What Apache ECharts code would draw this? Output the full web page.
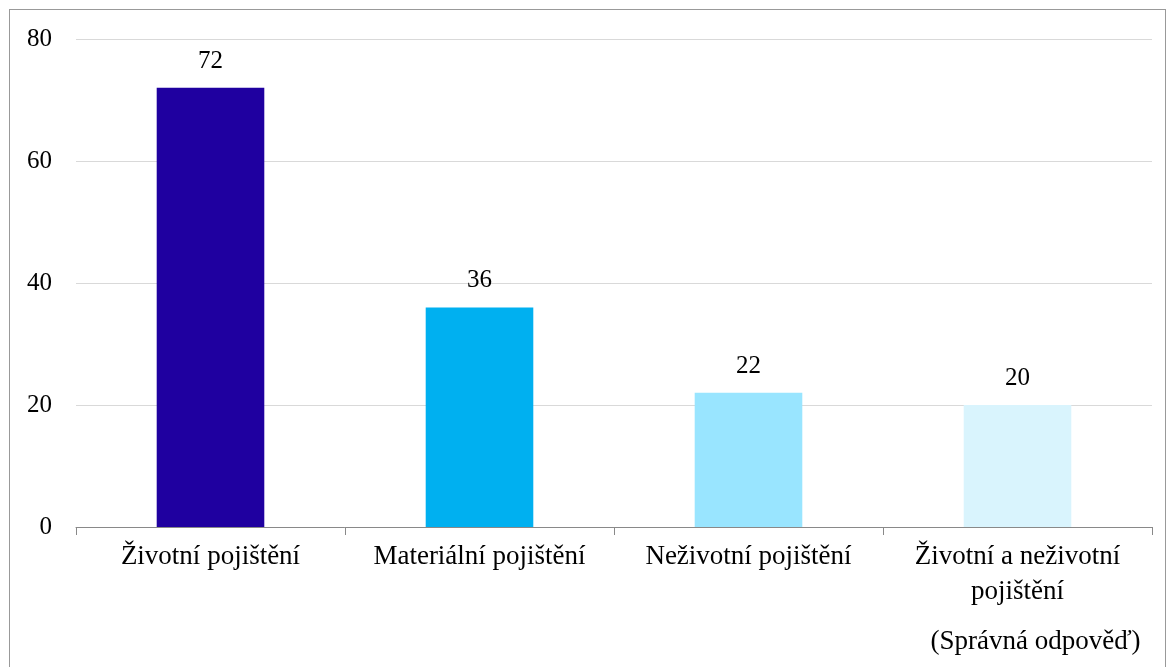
<!DOCTYPE html>
<html>
<head>
<meta charset="utf-8">
<script src="https://cdn.jsdelivr.net/npm/echarts@6/dist/echarts.min.js"></script>
<style>
  html, body { margin: 0; padding: 0; background: #fff; }
  #chart { width: 1168px; height: 667px; }
  #frame { position: absolute; left: 9px; top: 9px; width: 1157px; height: 700px; border: 1px solid #999; border-bottom: none; box-sizing: border-box; pointer-events: none; }
</style>
</head>
<body>
<div id="frame"></div>
<div id="chart"></div>
<script>
// data
var categories = ['Životní pojištění', 'Materiální pojištění', 'Neživotní pojištění', 'Životní a neživotní\npojištění'];
var values = [72, 36, 22, 20];
var barColors = ['#1f00a0', '#00b0f0', '#99e5ff', '#d9f4fd'];
var correctNote = '(Správná odpověď)';

var chart = echarts.init(document.getElementById('chart'));
var font = '"Liberation Serif", "Times New Roman", serif';

var option = {
    animation: false,
    textStyle: { fontFamily: font },
    grid: { left: 76, right: 16, top: 39, bottom: 140, containLabel: false, outerBoundsMode: 'none' },
    xAxis: {
        type: 'category',
        data: categories,
        axisLine: { lineStyle: { color: '#898989', width: 1 } },
        axisTick: { show: true, length: 8, lineStyle: { color: '#898989' } },
        axisLabel: {
            color: '#000',
            fontSize: 27,
            fontFamily: font,
            margin: 12,
            lineHeight: 35,
            interval: 0,
            formatter: function (val, idx) {
                if (idx === categories.length - 1) {
                    return '{a|' + val.replace('\n', '}\n{a|') + '}\n{b|' + correctNote + '}';
                }
                return val;
            },
            rich: {
                a: { fontSize: 27, fontFamily: font, lineHeight: 35, color: '#000' },
                b: { fontSize: 27, fontFamily: font, lineHeight: 65, color: '#000', padding: [0, 0, 0, 36] }
            }
        }
    },
    yAxis: {
        type: 'value',
        min: 0,
        max: 80,
        interval: 20,
        axisLine: { show: false },
        axisTick: { show: false },
        splitLine: { lineStyle: { color: '#d9d9d9', width: 1 } },
        axisLabel: { color: '#000', fontSize: 25, fontFamily: font, margin: 24 }
    },
    series: [{
        type: 'bar',
        barWidth: '40%',
        data: values.map(function (v, i) {
            return { value: v, itemStyle: { color: barColors[i] } };
        }),
        label: {
            show: true,
            position: 'top',
            distance: 14,
            color: '#000',
            fontSize: 25,
            fontFamily: font
        }
    }]
};

chart.setOption(option);
</script>
</body>
</html>
